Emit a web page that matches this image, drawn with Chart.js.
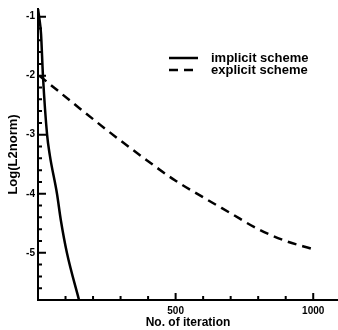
<!DOCTYPE html>
<html><head><meta charset="utf-8">
<script src="https://cdn.jsdelivr.net/npm/chart.js@4.4.0/dist/chart.umd.min.js"></script>
<style>html,body{margin:0;padding:0;background:#fff}#w{width:338px;height:330px}</style>
</head><body><div id="w"><canvas id="c"></canvas></div>
<script>
const implicitX = [0, 4, 11, 18, 33, 43, 69, 83, 105, 149];
const implicitY = [-0.87, -1.0, -1.29, -2.0, -3.0, -3.35, -4.0, -4.45, -5.0, -5.8];
const explicitX = [5, 124, 250, 380, 500, 600, 700, 800, 900, 993];
const explicitY = [-2.0, -2.45, -2.92, -3.38, -3.78, -4.06, -4.33, -4.6, -4.8, -4.93];
const seriesNames = ['implicit scheme', 'explicit scheme'];
const xTickLabels = [500, 1000];
const yTickLabels = [-5, -4, -3, -2, -1];
const xTitle = 'No. of iteration';
const yTitle = 'Log(L2norm)';

const FONT = 'Liberation Sans, Arial, sans-serif';

const innerTicks = {
  id: 'innerTicks',
  afterDraw(chart) {
    const {ctx, chartArea: a, scales: {x, y}} = chart;
    ctx.save();
    ctx.setLineDash([]);
    ctx.strokeStyle = '#000';
    ctx.lineWidth = 2;
    ctx.beginPath();
    for (let v = 100; v <= 1000; v += 100) {
      const px = x.getPixelForValue(v);
      const len = (v % 500 === 0) ? 7 : 4;
      ctx.moveTo(px, a.bottom); ctx.lineTo(px, a.bottom - len);
    }
    for (let i = -29; i <= -5; i++) {
      const v = i / 5;
      const py = y.getPixelForValue(v);
      const len = (i % 5 === 0) ? 8 : 4;
      ctx.moveTo(a.left, py); ctx.lineTo(a.left + len, py);
    }
    ctx.stroke();
    // legend
    const lx0 = 169, lx1 = 198, tx = 211;
    const rows = [58, 70];
    chart.data.datasets.forEach((ds, i) => {
      ctx.beginPath();
      ctx.lineWidth = ds.borderWidth;
      ctx.strokeStyle = ds.borderColor;
      ctx.setLineDash(ds.borderDash || []);
      ctx.moveTo(lx0, rows[i]); ctx.lineTo(lx1, rows[i]);
      ctx.stroke();
      ctx.setLineDash([]);
      ctx.fillStyle = '#000';
      ctx.font = 'bold 13px ' + FONT;
      ctx.textBaseline = 'middle';
      ctx.fillText(ds.label, tx, rows[i]);
    });
    ctx.restore();
  }
};

new Chart(document.getElementById('c'), {
  type: 'scatter',
  data: {
    datasets: [
      { label: seriesNames[0], data: implicitX.map((v, i) => ({x: v, y: implicitY[i]})),
        showLine: true, borderColor: '#000', borderWidth: 2.5, pointRadius: 0, cubicInterpolationMode: 'monotone' },
      { label: seriesNames[1], data: explicitX.map((v, i) => ({x: v, y: explicitY[i]})),
        showLine: true, borderColor: '#000', borderWidth: 2.5, borderDash: [9, 6], pointRadius: 0, cubicInterpolationMode: 'monotone' }
    ]
  },
  options: {
    responsive: true, maintainAspectRatio: false, animation: false,
    layout: { padding: { top: 8, right: 0, left: 0, bottom: 0 } },
    plugins: { legend: { display: false }, tooltip: { enabled: false } },
    scales: {
      x: {
        type: 'linear', min: 0, max: 1090,
        afterBuildTicks: s => { s.ticks = xTickLabels.map(v => ({value: v})); },
        afterFit: s => { s.height = 30; },
        ticks: { color: '#000', font: { family: FONT, size: 10, weight: 'bold' }, padding: 5, maxRotation: 0,
                 callback: v => String(v) },
        grid: { drawOnChartArea: false, tickLength: 0 },
        border: { color: '#000', width: 2 },
        title: { display: true, text: xTitle, color: '#000', font: { family: FONT, size: 12, weight: 'bold' }, padding: { top: 0, bottom: 0 } }
      },
      y: {
        type: 'linear', min: -5.8, max: -0.87,
        afterBuildTicks: s => { s.ticks = yTickLabels.map(v => ({value: v})); },
        afterFit: s => { s.width = 38; },
        ticks: { color: '#000', font: { family: FONT, size: 10, weight: 'bold' }, padding: 3,
                 callback: v => String(v) },
        grid: { drawOnChartArea: false, tickLength: 0 },
        border: { color: '#000', width: 2 },
        title: { display: true, text: yTitle, color: '#000', font: { family: FONT, size: 13, weight: 'bold' }, padding: { top: 6, bottom: 0 } }
      }
    }
  },
  plugins: [innerTicks]
});
</script></body></html>
